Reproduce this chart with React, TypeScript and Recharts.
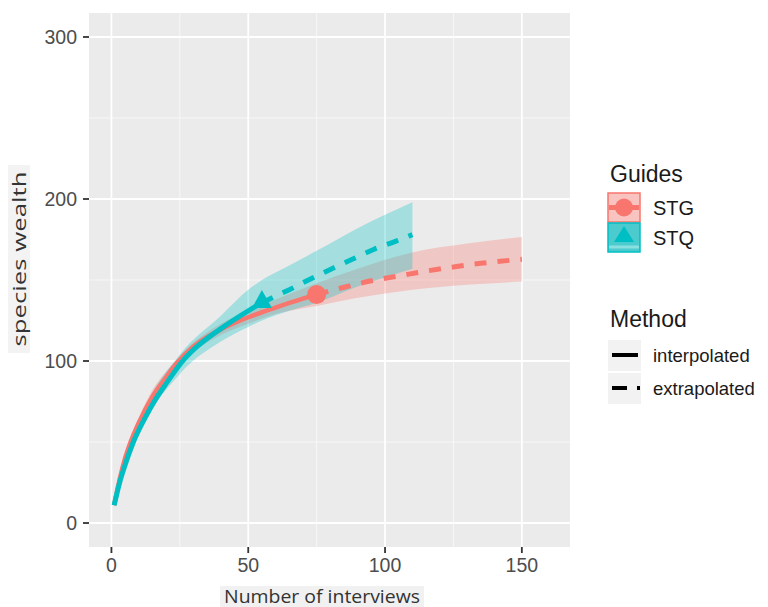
import React from "react";
import { ComposedChart, Line, Area, Scatter, XAxis, YAxis, CartesianGrid } from "recharts";

const RED = "#F8766D";
const TEAL = "#00BFC4";

const xTicks = [0, 50, 100, 150];
const yTicks = [0, 100, 200, 300];
const xMinor = [25, 75, 125];
const yMinor = [50, 150, 250];

// STG: rarefaction (interpolated) + extrapolation + 95% band
const stgInterpX = [1, 3, 5, 7, 10, 15, 20, 24, 30, 40, 50, 60, 70, 75];
const stgInterpY = [11, 27, 40, 50, 62, 78, 90, 99, 109, 119.5, 127, 133, 138.5, 141];
const stgExtrapX = [75, 85, 95, 105, 115, 125, 135, 150];
const stgExtrapY = [141, 145.5, 149.5, 152.5, 155.5, 158, 160.3, 162.8];
const stgBandX = [1, 10, 25, 40, 50, 60, 75, 90, 110, 130, 150];
const stgLower = [10, 60, 98, 116, 123, 129, 134, 139, 144, 147, 149];
const stgUpper = [12, 64, 103, 123, 131, 138, 148, 157, 167, 172.5, 176.5];
const stgObserved = { x: 75, y: 141 };

// STQ
const stqInterpX = [1, 3, 5, 8, 12, 16, 20, 26, 30, 40, 50, 55];
const stqInterpY = [11, 25, 36, 50, 64, 76, 86, 100, 107, 120, 131, 136];
const stqExtrapX = [55, 60, 65, 72, 80, 88, 96, 104, 110];
const stqExtrapY = [136, 140, 144, 150, 156.5, 162.8, 169, 174, 178];
const stqBandX = [1, 10, 25, 40, 50, 55, 65, 75, 90, 110];
const stqLower = [10, 54, 92, 112, 121, 125, 131, 136, 146, 157];
const stqUpper = [12, 62, 104, 128, 144, 150, 159, 168, 182, 198];
const stqObserved = { x: 55, y: 137 };

const toPoints = (xs: number[], ys: number[]) => xs.map((x, i) => ({ x, y: ys[i] }));
const toBand = (xs: number[], lo: number[], hi: number[]) =>
  xs.map((x, i) => ({ x, band: [lo[i], hi[i]] }));

const tickFont = { fill: "#4D4D4D", fontSize: 19.5, fontFamily: "'Liberation Sans', Arial, sans-serif" };
const titleFont = "'Open Sans', 'Noto Sans', sans-serif";
const legendFont = "'Liberation Sans', Arial, sans-serif";

const Circle = (p: any) => <circle cx={p.cx} cy={p.cy} r={9.5} fill={RED} />;
const Triangle = (p: any) => (
  <path d={`M${p.cx},${p.cy - 11} L${p.cx + 10},${p.cy + 7} L${p.cx - 10},${p.cy + 7} Z`} fill={TEAL} />
);

function Legend() {
  return (
    <svg width={170} height={260} style={{ position: "absolute", left: 598, top: 150 }}>
      <g transform="translate(-598,-150)" fontFamily={legendFont} fill="#1A1A1A">
        <text x={610} y={182} fontSize={23}>Guides</text>
        <rect x={608} y={193} width={32} height={29} fill="#F9C4C0" stroke={RED} strokeWidth={1.5} />
        <line x1={609} x2={639} y1={207.5} y2={207.5} stroke={RED} strokeWidth={5} />
        <circle cx={624} cy={207.5} r={9} fill={RED} />
        <rect x={608} y={223} width={32} height={29} fill="#4CCBCE" stroke={TEAL} strokeWidth={1.5} />
        <line x1={609} x2={639} y1={247} y2={247} stroke="#8ADFE1" strokeWidth={3} />
        <path d="M624,226 L634,242 L614,242 Z" fill={TEAL} />
        <text x={653} y={215} fontSize={20}>STG</text>
        <text x={653} y={245} fontSize={20}>STQ</text>

        <text x={610} y={327} fontSize={23}>Method</text>
        <rect x={608} y={340} width={33} height={31} fill="#F2F2F2" />
        <line x1={612} x2={638} y1={355} y2={355} stroke="#000" strokeWidth={4} />
        <rect x={608} y={373} width={33} height={31} fill="#F2F2F2" />
        <line x1={612} x2={640} y1={388} y2={388} stroke="#000" strokeWidth={4} strokeDasharray="15 10" />
        <text x={653} y={362} fontSize={18.5}>interpolated</text>
        <text x={653} y={395} fontSize={18.5}>extrapolated</text>
      </g>
    </svg>
  );
}

export default function App() {
  return (
    <div style={{ position: "absolute", left: 0, top: 0, width: 768, height: 607, background: "#fff" }}>
      <svg width={768} height={607} style={{ position: "absolute", left: 0, top: 0 }}>
        <rect x={8} y={165} width={22} height={188} fill="#F3F3F3" />
        <text
          transform="translate(26,259) rotate(-90)"
          textAnchor="middle"
          fontFamily={titleFont}
          fontSize={18}
          fill="#333"
          textLength={175}
          lengthAdjust="spacingAndGlyphs"
        >
          species wealth
        </text>
        <rect x={220} y={586} width={204} height={21} fill="#F1F1F1" />
        <text
          x={322}
          y={603}
          textAnchor="middle"
          fontFamily={titleFont}
          fontSize={18}
          fill="#333"
          textLength={196}
          lengthAdjust="spacingAndGlyphs"
        >
          Number of interviews
        </text>
      </svg>
      <div style={{ position: "absolute", left: 0, top: 0 }}>
        <ComposedChart width={768} height={607} margin={{ top: 13, right: 198, bottom: 0, left: 0 }}>
          <CartesianGrid
            fill="#EBEBEB"
            stroke="#F7F7F7"
            strokeWidth={1}
            horizontalValues={yMinor}
            verticalValues={xMinor}
          />
          <CartesianGrid
            stroke="#FFFFFF"
            strokeWidth={1.8}
            horizontalValues={yTicks}
            verticalValues={xTicks}
          />
          <XAxis
            type="number"
            dataKey="x"
            domain={[-8.2, 167.6]}
            allowDataOverflow
            ticks={xTicks}
            height={60}
            axisLine={false}
            tickSize={6}
            tickMargin={5}
            tickLine={{ stroke: "#333", strokeWidth: 1.8 }}
            tick={tickFont}
          />
          <YAxis
            type="number"
            dataKey="y"
            domain={[-14.8, 314.8]}
            allowDataOverflow
            ticks={yTicks}
            width={89}
            axisLine={false}
            tickSize={6}
            tickMargin={6}
            tickLine={{ stroke: "#333", strokeWidth: 1.8 }}
            tick={tickFont}
          />
          <Area
            data={toBand(stgBandX, stgLower, stgUpper)}
            dataKey="band"
            type="monotone"
            fill={RED}
            fillOpacity={0.3}
            stroke="none"
            activeDot={false}
            isAnimationActive={false}
          />
          <Area
            data={toBand(stqBandX, stqLower, stqUpper)}
            dataKey="band"
            type="monotone"
            fill={TEAL}
            fillOpacity={0.3}
            stroke="none"
            activeDot={false}
            isAnimationActive={false}
          />
          <Line
            data={toPoints(stgInterpX, stgInterpY)}
            dataKey="y"
            type="monotone"
            stroke={RED}
            strokeWidth={4.5}
            dot={false}
            activeDot={false}
            isAnimationActive={false}
          />
          <Line
            data={toPoints(stgExtrapX, stgExtrapY)}
            dataKey="y"
            type="monotone"
            stroke={RED}
            strokeWidth={5}
            strokeDasharray="12 11"
            dot={false}
            activeDot={false}
            isAnimationActive={false}
          />
          <Line
            data={toPoints(stqInterpX, stqInterpY)}
            dataKey="y"
            type="monotone"
            stroke={TEAL}
            strokeWidth={5}
            dot={false}
            activeDot={false}
            isAnimationActive={false}
          />
          <Line
            data={toPoints(stqExtrapX, stqExtrapY)}
            dataKey="y"
            type="monotone"
            stroke={TEAL}
            strokeWidth={5}
            strokeDasharray="12 11"
            dot={false}
            activeDot={false}
            isAnimationActive={false}
          />
          <Scatter data={[stgObserved]} shape={Circle} isAnimationActive={false} />
          <Scatter data={[stqObserved]} shape={Triangle} isAnimationActive={false} />
        </ComposedChart>
      </div>
      <Legend />
    </div>
  );
}
